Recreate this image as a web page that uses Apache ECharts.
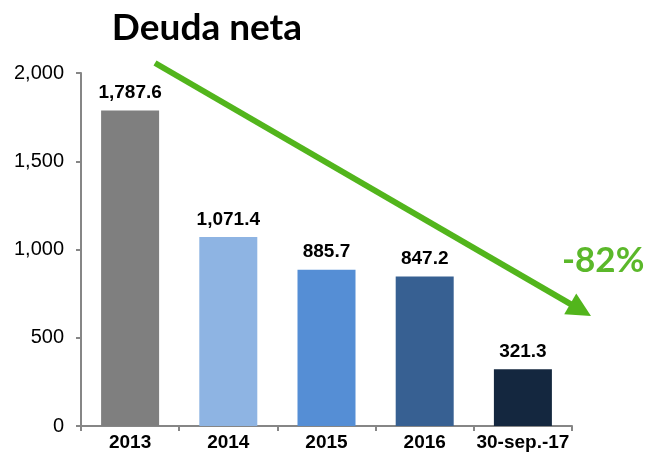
<!DOCTYPE html>
<html>
<head>
<meta charset="utf-8">
<script src="https://cdn.jsdelivr.net/npm/echarts@6/dist/echarts.min.js"></script>
<style>
  html, body { margin: 0; padding: 0; background: #fff; }
  #chart { width: 662px; height: 454px; }
</style>
</head>
<body>
<div id="chart"></div>
<script>
var categories = ['2013', '2014', '2015', '2016', '30-sep.-17'];
var values = [1787.6, 1071.4, 885.7, 847.2, 321.3];
var barColors = ['#7f7f7f', '#8eb4e3', '#558ed5', '#376092', '#14273f'];
var yTicks = [0, 500, 1000, 1500, 2000];

var green = '#52b51c';

function fmt(v, dec) {
    return v.toLocaleString('en-US', {minimumFractionDigits: dec, maximumFractionDigits: dec});
}

// arrow geometry (annotation, pixel space)
var ax0 = 155, ay0 = 63, ax1 = 591, ay1 = 316;
var dx = ax1 - ax0, dy = ay1 - ay0;
var len = Math.sqrt(dx * dx + dy * dy);
var ux = dx / len, uy = dy / len;
var headLen = 24, headHalf = 12;
var bx = ax1 - ux * headLen, by = ay1 - uy * headLen;

var chart = echarts.init(document.getElementById('chart'));
chart.setOption({
    animation: false,
    backgroundColor: '#fff',
    title: {
        text: 'Deuda neta',
        left: 202,
        top: 5,
        textAlign: 'center',
        textStyle: {fontFamily: 'Lato', fontWeight: 'bold', fontSize: 37, color: '#000'}
    },
    grid: {left: 81, right: 90, top: 73, bottom: 28},
    xAxis: {
        type: 'category',
        data: categories,
        axisLine: {lineStyle: {color: '#868686', width: 2}},
        axisTick: {show: true, length: 5, lineStyle: {color: '#868686', width: 2}},
        axisLabel: {
            interval: 0,
            margin: 7,
            fontFamily: 'Liberation Sans', fontWeight: 'bold', fontSize: 19, color: '#000'
        }
    },
    yAxis: {
        type: 'value',
        min: yTicks[0],
        max: yTicks[yTicks.length - 1],
        interval: 500,
        splitLine: {show: false},
        axisLine: {show: true, lineStyle: {color: '#868686', width: 2}},
        axisTick: {show: true, length: 5, lineStyle: {color: '#868686', width: 2}},
        axisLabel: {
            margin: 17,
            fontFamily: 'Liberation Sans', fontSize: 20, color: '#000',
            formatter: function (v) { return fmt(v, 0); }
        }
    },
    series: [{
        type: 'bar',
        barWidth: 58,
        data: values.map(function (v, i) {
            return {value: v, itemStyle: {color: barColors[i]}};
        }),
        label: {
            show: true,
            position: 'top',
            distance: 8,
            fontFamily: 'Liberation Sans', fontWeight: 'bold', fontSize: 19, color: '#000',
            formatter: function (p) { return fmt(p.value, 1); }
        }
    }],
    graphic: [
        {
            type: 'line',
            shape: {x1: ax0, y1: ay0, x2: bx + ux * 2, y2: by + uy * 2},
            style: {stroke: green, lineWidth: 6},
            z: 100
        },
        {
            type: 'polygon',
            shape: {points: [
                [ax1, ay1],
                [bx - uy * headHalf, by + ux * headHalf],
                [bx + uy * headHalf, by - ux * headHalf]
            ]},
            style: {fill: green},
            z: 100
        },
        {
            type: 'text',
            left: 562,
            top: 243,
            style: {
                text: '-82%',
                fontFamily: 'Lato', fontWeight: 'bold', fontSize: 35,
                fill: '#5bb82a'
            },
            z: 100
        }
    ]
});
</script>
</body>
</html>
